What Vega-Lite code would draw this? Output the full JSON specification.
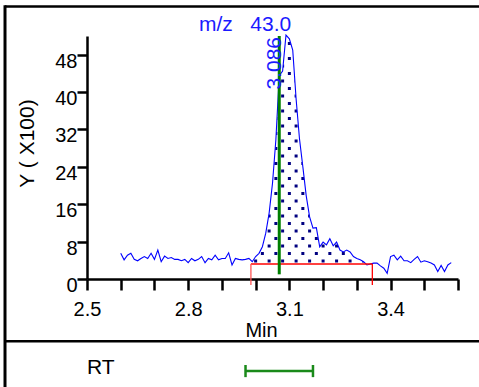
{
  "$schema": "https://vega.github.io/schema/vega-lite/v6.json",
  "width": 371,
  "height": 243,
  "autosize": {"type": "none"},
  "padding": {"left": 87, "top": 36, "right": 21, "bottom": 108},
  "background": "white",
  "datasets": {
    "trace": [
      {"t": 2.60, "v": 5.5}, {"t": 2.61, "v": 4.1}, {"t": 2.62, "v": 5.1}, {"t": 2.63, "v": 5.5},
      {"t": 2.64, "v": 4.2}, {"t": 2.65, "v": 3.9}, {"t": 2.66, "v": 4.4}, {"t": 2.67, "v": 4.8},
      {"t": 2.68, "v": 4.4}, {"t": 2.69, "v": 5.5}, {"t": 2.70, "v": 4.2}, {"t": 2.71, "v": 6.2},
      {"t": 2.72, "v": 3.7}, {"t": 2.73, "v": 4.9}, {"t": 2.74, "v": 4.4}, {"t": 2.75, "v": 4.6},
      {"t": 2.76, "v": 4.2}, {"t": 2.77, "v": 4.2}, {"t": 2.78, "v": 3.9}, {"t": 2.79, "v": 4.2},
      {"t": 2.80, "v": 3.5}, {"t": 2.81, "v": 4.4}, {"t": 2.82, "v": 3.9}, {"t": 2.83, "v": 4.2},
      {"t": 2.84, "v": 4.8}, {"t": 2.85, "v": 3.5}, {"t": 2.86, "v": 4.4}, {"t": 2.87, "v": 4.1},
      {"t": 2.88, "v": 5.1}, {"t": 2.89, "v": 4.1}, {"t": 2.90, "v": 4.4}, {"t": 2.91, "v": 4.4},
      {"t": 2.92, "v": 5.6}, {"t": 2.93, "v": 3.0}, {"t": 2.94, "v": 4.4}, {"t": 2.95, "v": 4.2},
      {"t": 2.96, "v": 4.1}, {"t": 2.97, "v": 4.2}, {"t": 2.98, "v": 4.4}, {"t": 2.99, "v": 3.7},
      {"t": 3.00, "v": 4.8}, {"t": 3.01, "v": 5.5}, {"t": 3.02, "v": 6.9}, {"t": 3.03, "v": 9.8},
      {"t": 3.04, "v": 14.1}, {"t": 3.05, "v": 20.5}, {"t": 3.06, "v": 29.8}, {"t": 3.07, "v": 43.5},
      {"t": 3.08, "v": 44.5}, {"t": 3.09, "v": 52.2}, {"t": 3.10, "v": 51.4}, {"t": 3.11, "v": 49.0},
      {"t": 3.12, "v": 38.5}, {"t": 3.13, "v": 30.0}, {"t": 3.14, "v": 24.0}, {"t": 3.15, "v": 17.8},
      {"t": 3.16, "v": 13.3}, {"t": 3.17, "v": 10.9}, {"t": 3.18, "v": 11.0}, {"t": 3.19, "v": 6.9},
      {"t": 3.20, "v": 7.9}, {"t": 3.21, "v": 7.3}, {"t": 3.22, "v": 8.6}, {"t": 3.23, "v": 7.1},
      {"t": 3.24, "v": 7.9}, {"t": 3.25, "v": 6.2}, {"t": 3.26, "v": 5.8}, {"t": 3.27, "v": 6.2},
      {"t": 3.28, "v": 5.8}, {"t": 3.29, "v": 4.8}, {"t": 3.30, "v": 4.4}, {"t": 3.31, "v": 4.1},
      {"t": 3.32, "v": 3.7}, {"t": 3.33, "v": 3.0}, {"t": 3.34, "v": 3.2}, {"t": 3.35, "v": 3.4},
      {"t": 3.36, "v": 3.4}, {"t": 3.37, "v": 2.8}, {"t": 3.38, "v": 2.3}, {"t": 3.39, "v": 1.2},
      {"t": 3.40, "v": 4.8}, {"t": 3.41, "v": 5.1}, {"t": 3.42, "v": 4.1}, {"t": 3.43, "v": 4.9},
      {"t": 3.44, "v": 3.9}, {"t": 3.45, "v": 3.9}, {"t": 3.46, "v": 3.5}, {"t": 3.47, "v": 4.2},
      {"t": 3.48, "v": 4.8}, {"t": 3.49, "v": 3.6}, {"t": 3.50, "v": 3.9}, {"t": 3.51, "v": 3.7},
      {"t": 3.52, "v": 3.4}, {"t": 3.53, "v": 3.0}, {"t": 3.54, "v": 1.6}, {"t": 3.55, "v": 2.9},
      {"t": 3.56, "v": 1.6}, {"t": 3.57, "v": 3.0}, {"t": 3.58, "v": 3.5}
    ],
    "peak": [
      {"mz": "43.0", "rt": 3.07, "apex": "3.086", "start": 2.986, "end": 3.346, "base": 3.21, "winLo": 2.97, "winHi": 3.17}
    ]
  },
  "layer": [
    {
      "data": {"name": "trace"},
      "transform": [
        {"filter": "datum.t >= 2.995 && datum.t <= 3.345 && round(datum.t * 100) % 4 == 0"}
      ],
      "mark": {"type": "rule", "color": "#000080", "strokeWidth": 3, "strokeDash": [3, 12], "strokeDashOffset": 1.5, "strokeCap": "butt", "clip": false},
      "encoding": {
        "x": {"field": "t", "type": "quantitative"},
        "y": {"datum": 52, "type": "quantitative"},
        "y2": {"datum": 3.21}
      }
    },
    {
      "data": {"name": "trace"},
      "transform": [
        {"filter": "datum.t >= 2.995 && datum.t <= 3.345 && round(datum.t * 100) % 4 == 2"}
      ],
      "mark": {"type": "rule", "color": "#000080", "strokeWidth": 3, "strokeDash": [3, 12], "strokeDashOffset": 9, "strokeCap": "butt", "clip": false},
      "encoding": {
        "x": {"field": "t", "type": "quantitative"},
        "y": {"datum": 52, "type": "quantitative"},
        "y2": {"datum": 3.21}
      }
    },
    {
      "data": {"name": "trace"},
      "transform": [
        {"filter": "datum.t >= 2.985 && datum.t <= 3.355"}
      ],
      "mark": {"type": "area", "color": "white", "opacity": 1, "clip": false},
      "encoding": {
        "x": {"field": "t", "type": "quantitative"},
        "y": {"field": "v", "type": "quantitative"},
        "y2": {"datum": 52.4}
      }
    },
    {
      "data": {"name": "trace"},
      "mark": {"type": "line", "color": "#0000ff", "strokeWidth": 1.1, "clip": false},
      "encoding": {
        "x": {
          "field": "t",
          "type": "quantitative",
          "scale": {"domain": [2.5, 3.6], "nice": false, "zero": false},
          "axis": {
            "values": [2.5, 2.6, 2.7, 2.8, 2.9, 3.0, 3.1, 3.2, 3.3, 3.4, 3.5, 3.6],
            "tickCount": 20,
            "format": ".1f",
            "labelExpr": "indexof(['2.5','2.8','3.1','3.4'], datum.label) >= 0 ? datum.label : ''",
            "title": "Min",
            "titleX": 174,
            "titleY": 57,
            "titleAlign": "center",
            "titleBaseline": "alphabetic",
            "titleFontSize": 20,
            "tickSize": 11,
            "labelPadding": 9,
            "labelBaseline": "top"
          }
        },
        "y": {
          "field": "v",
          "type": "quantitative",
          "scale": {"domain": [0, 52], "nice": false, "zero": false},
          "axis": {
            "values": [0, 8, 16, 24, 32, 40, 48],
            "tickCount": 20,
            "title": "Y ( X100)",
            "titleX": -54,
            "titleY": 107,
            "titleAngle": 270,
            "titleAlign": "center",
            "titleBaseline": "alphabetic",
            "titleFontSize": 21,
            "tickSize": 10,
            "labelPadding": 0,
            "labelBaseline": "top",
            "labelOffset": -3.5
          }
        }
      }
    },
    {
      "data": {"name": "peak"},
      "mark": {"type": "rule", "color": "#ff0000", "strokeWidth": 1.3, "clip": false},
      "encoding": {
        "x": {"field": "start", "type": "quantitative"},
        "x2": {"field": "end"},
        "y": {"field": "base", "type": "quantitative"}
      }
    },
    {
      "data": {"name": "peak"},
      "mark": {"type": "rule", "color": "#ff5555", "strokeWidth": 1.3, "clip": false},
      "encoding": {
        "x": {"field": "start", "type": "quantitative"},
        "y": {"field": "base", "type": "quantitative"},
        "y2": {"datum": -1.3}
      }
    },
    {
      "data": {"name": "peak"},
      "mark": {"type": "rule", "color": "#ff0000", "strokeWidth": 1.3, "clip": false},
      "encoding": {
        "x": {"field": "end", "type": "quantitative"},
        "y": {"field": "base", "type": "quantitative"},
        "y2": {"datum": -1.3}
      }
    },
    {
      "data": {"name": "peak"},
      "mark": {"type": "rule", "color": "#007f00", "strokeWidth": 3, "clip": false},
      "encoding": {
        "x": {"field": "rt", "type": "quantitative"},
        "y": {"datum": 52, "type": "quantitative"},
        "y2": {"datum": 1.0}
      }
    },
    {
      "data": {"name": "peak"},
      "mark": {"type": "text", "color": "#1a1aff", "fontSize": 21, "font": "Liberation Sans", "angle": 270, "align": "right", "baseline": "alphabetic", "dy": 2, "dx": -1, "clip": false},
      "encoding": {
        "x": {"field": "rt", "type": "quantitative"},
        "y": {"datum": 52, "type": "quantitative"},
        "text": {"field": "apex"}
      }
    },
    {
      "data": {"name": "peak"},
      "mark": {"type": "text", "color": "#1a1aff", "fontSize": 21, "font": "Liberation Sans", "align": "left", "baseline": "alphabetic", "clip": false},
      "encoding": {
        "x": {"datum": 2.832, "type": "quantitative"},
        "y": {"datum": 53.07, "type": "quantitative"},
        "text": {"value": "m/z\u00a0\u00a0\u00a043.0"}
      }
    },
    {
      "data": {"name": "peak"},
      "mark": {"type": "rule", "color": "#1a8a1a", "strokeWidth": 2.5, "clip": false},
      "encoding": {
        "x": {"field": "winLo", "type": "quantitative"},
        "x2": {"field": "winHi"},
        "y": {"datum": -19.69, "type": "quantitative"}
      }
    },
    {
      "data": {"name": "peak"},
      "mark": {"type": "rule", "color": "#1a8a1a", "strokeWidth": 2.5, "clip": false},
      "encoding": {
        "x": {"field": "winLo", "type": "quantitative"},
        "y": {"datum": -18.4, "type": "quantitative"},
        "y2": {"datum": -21.0}
      }
    },
    {
      "data": {"name": "peak"},
      "mark": {"type": "rule", "color": "#1a8a1a", "strokeWidth": 2.5, "clip": false},
      "encoding": {
        "x": {"field": "winHi", "type": "quantitative"},
        "y": {"datum": -18.4, "type": "quantitative"},
        "y2": {"datum": -21.0}
      }
    },
    {
      "data": {"name": "peak"},
      "mark": {"type": "text", "color": "black", "fontSize": 21, "font": "Liberation Sans", "align": "left", "baseline": "alphabetic", "clip": false},
      "encoding": {
        "x": {"datum": 2.5, "type": "quantitative"},
        "y": {"datum": -20.33, "type": "quantitative"},
        "text": {"value": "RT"}
      }
    },
    {
      "data": {"name": "peak"},
      "mark": {"type": "rule", "color": "black", "strokeWidth": 3, "clip": false},
      "encoding": {
        "x": {"datum": 2.2569, "type": "quantitative"},
        "y": {"datum": 58.6, "type": "quantitative"},
        "y2": {"datum": -25}
      }
    },
    {
      "data": {"name": "peak"},
      "mark": {"type": "rule", "color": "black", "strokeWidth": 2.5, "clip": false},
      "encoding": {
        "x": {"datum": 2.2569, "type": "quantitative"},
        "x2": {"datum": 3.7},
        "y": {"datum": 58.31, "type": "quantitative"}
      }
    },
    {
      "data": {"name": "peak"},
      "mark": {"type": "rule", "color": "black", "strokeWidth": 2.5, "clip": false},
      "encoding": {
        "x": {"datum": 2.2569, "type": "quantitative"},
        "x2": {"datum": 3.7},
        "y": {"datum": -13.33, "type": "quantitative"}
      }
    }
  ],
  "config": {
    "view": {"stroke": null},
    "font": "Liberation Sans",
    "axis": {
      "grid": false,
      "domainColor": "black",
      "domainWidth": 2.5,
      "tickColor": "black",
      "tickWidth": 2.5,
      "labelColor": "black",
      "labelFont": "Liberation Sans",
      "labelFontSize": 20,
      "labelFlush": false,
      "labelOverlap": false,
      "labelBound": false,
      "titleColor": "black",
      "titleFont": "Liberation Sans",
      "titleFontWeight": "normal"
    }
  }
}
